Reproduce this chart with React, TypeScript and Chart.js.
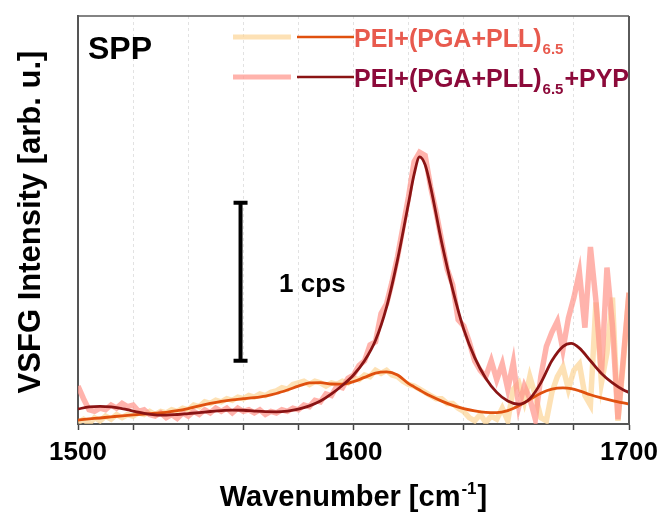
import React, { useEffect, useRef } from "react";
import { Chart, registerables } from "chart.js";

Chart.register(...registerables);

// ---------- data ----------
const xMin = 1500;
const xMax = 1700;
const xTickLabels = [1500, 1600, 1700];

// raw spectra, 1500..1700 cm-1 every 2 cm-1
const rawX = Array.from({ length: 101 }, (_, i) => 1500 + 2 * i);

const rawRef = [
  0.01, 0.03, 0.0, 0.04, 0.02, 0.05, 0.03, 0.06, 0.04, 0.06,
  0.05, 0.07, 0.06, 0.08, 0.06, 0.08, 0.07, 0.09, 0.08, 0.1,
  0.09, 0.12, 0.11, 0.14, 0.13, 0.15, 0.14, 0.16, 0.15, 0.17,
  0.16, 0.18, 0.17, 0.19, 0.18, 0.2, 0.21, 0.23, 0.22, 0.25,
  0.26, 0.27, 0.25, 0.27, 0.26, 0.24, 0.26, 0.25, 0.27, 0.26,
  0.29, 0.28, 0.31, 0.3, 0.34, 0.32, 0.34, 0.31, 0.3, 0.27,
  0.25, 0.24, 0.22, 0.2, 0.18, 0.16, 0.16, 0.13, 0.13, 0.1,
  0.08, 0.04, 0.02, 0.06, 0.01, 0.05, 0.03, 0.1, 0.02, 0.22,
  0.26, 0.14, 0.3, 0.18, 0.04, 0.02, 0.2, 0.3, 0.36, 0.22,
  0.34, 0.38, 0.18, 0.12, 0.77, 0.26, 0.45, 0.8, 0.02, 0.4,
  0.83,
];

const rawPYP = [
  0.24, 0.16, 0.09, 0.08, 0.1, 0.09, 0.12, 0.1, 0.13, 0.11,
  0.12, 0.08, 0.09, 0.06, 0.05, 0.07, 0.04, 0.06, 0.035, 0.07,
  0.05, 0.08, 0.06, 0.09, 0.07, 0.1, 0.08, 0.1, 0.07, 0.1,
  0.08, 0.09, 0.07, 0.09, 0.06, 0.08, 0.07, 0.09, 0.08, 0.1,
  0.09, 0.12, 0.11, 0.15, 0.14, 0.19, 0.18, 0.24, 0.23, 0.29,
  0.31, 0.37, 0.4, 0.5, 0.52, 0.7, 0.76, 0.9, 1.06, 1.25,
  1.44, 1.66, 1.72, 1.7, 1.5, 1.34, 1.16, 0.98, 0.88, 0.66,
  0.62, 0.52, 0.4, 0.34, 0.3, 0.4, 0.28, 0.38, 0.22, 0.39,
  0.11, 0.24, 0.16, 0.03, 0.3, 0.49, 0.58, 0.65, 0.47, 0.67,
  0.8, 0.96, 0.61, 1.12, 0.78, 0.32, 0.99, 0.62, 0.03, 0.43,
  0.83,
];

// fitted curves
const fitX = [
  1500, 1504, 1508, 1512, 1516, 1520, 1524, 1528, 1532, 1536, 1540, 1544,
  1548, 1552, 1556, 1560, 1564, 1568, 1572, 1576, 1580, 1584, 1588, 1592,
  1596, 1600, 1604, 1608, 1612, 1616, 1620, 1622, 1624, 1626, 1628, 1632,
  1636, 1640, 1644, 1648, 1652, 1656, 1660, 1664, 1668, 1672, 1676, 1679,
  1682, 1686, 1690, 1694, 1698, 1700,
];

const fitPYP = [
  0.095, 0.108, 0.112, 0.108, 0.098, 0.082, 0.068, 0.058, 0.056, 0.06, 0.066, 0.072,
  0.079, 0.085, 0.088, 0.087, 0.082, 0.078, 0.077, 0.082, 0.094, 0.115, 0.145, 0.19,
  0.245, 0.31, 0.4, 0.53, 0.74, 1.04, 1.4, 1.58, 1.69, 1.64, 1.5, 1.15,
  0.85, 0.6, 0.42, 0.29, 0.2, 0.145, 0.125, 0.16, 0.26, 0.4, 0.49, 0.51,
  0.48, 0.4, 0.32, 0.26, 0.215, 0.2,
];

const fitRef = [
  0.025, 0.032, 0.038, 0.045, 0.052, 0.058, 0.063, 0.068, 0.074, 0.084, 0.098, 0.115,
  0.13, 0.143, 0.153, 0.16, 0.167, 0.177, 0.193, 0.215, 0.24, 0.26, 0.262, 0.253,
  0.252, 0.268, 0.295, 0.322, 0.33, 0.31, 0.255, 0.235, 0.215, 0.195, 0.177, 0.145,
  0.118, 0.097, 0.083, 0.074, 0.072, 0.085, 0.115, 0.155, 0.195, 0.22, 0.228, 0.224,
  0.21, 0.185, 0.165, 0.148, 0.133, 0.126,
];

// scale bar (1 cps)
const scaleBarX = 1559;
const scaleBarRange = [0.4, 1.4];
const scaleBarLabel = "1 cps";
const scaleBarLabelPos = [1573, 0.88];

const yMax = 2.582;

const labelRef = "PEI+(PGA+PLL)";
const labelSub = "6.5";
const labelPYPSuffix = "+PYP";
const panelLabel = "SPP";

// ---------- styles ----------
const FONT = "'Liberation Sans', Arial, Helvetica, sans-serif";
const RAW_REF_COLOR = "rgba(252, 212, 150, 0.7)";
const RAW_PYP_COLOR = "rgba(255, 150, 140, 0.72)";
const FIT_REF_COLOR = "#E0500E";
const FIT_PYP_COLOR = "#8A1414";
const TXT_REF_COLOR = "#E85A4E";
const TXT_PYP_COLOR = "#8C0A3A";

const toPts = (xs: number[], ys: number[]) => xs.map((x, i) => ({ x, y: ys[i] }));

const overlayPlugin = {
  id: "overlay",
  afterDatasetsDraw(chart: any) {
    const { ctx, chartArea, scales } = chart;
    const xs = scales.x;
    const ys = scales.y;
    ctx.save();
    // frame top/right
    ctx.strokeStyle = "#5a5a5a";
    ctx.lineWidth = 1.5;
    ctx.beginPath();
    ctx.moveTo(chartArea.left, chartArea.top);
    ctx.lineTo(chartArea.right, chartArea.top);
    ctx.stroke();
    ctx.lineWidth = 2;
    ctx.beginPath();
    ctx.moveTo(chartArea.right, chartArea.top);
    ctx.lineTo(chartArea.right, chartArea.bottom);
    ctx.stroke();

    // scale bar
    const bx = xs.getPixelForValue(scaleBarX);
    const by1 = ys.getPixelForValue(scaleBarRange[0]);
    const by2 = ys.getPixelForValue(scaleBarRange[1]);
    ctx.strokeStyle = "#000";
    ctx.lineWidth = 4;
    ctx.lineCap = "butt";
    ctx.beginPath();
    ctx.moveTo(bx, by1);
    ctx.lineTo(bx, by2);
    ctx.moveTo(bx - 7, by1);
    ctx.lineTo(bx + 7, by1);
    ctx.moveTo(bx - 7, by2);
    ctx.lineTo(bx + 7, by2);
    ctx.stroke();

    ctx.fillStyle = "#000";
    ctx.font = `bold 26px ${FONT}`;
    ctx.textAlign = "left";
    ctx.textBaseline = "middle";
    ctx.fillText(
      scaleBarLabel,
      xs.getPixelForValue(scaleBarLabelPos[0]),
      ys.getPixelForValue(scaleBarLabelPos[1])
    );
    ctx.restore();
  },
  afterDraw(chart: any) {
    const { ctx, chartArea } = chart;
    ctx.save();
    // panel label
    ctx.fillStyle = "#000";
    ctx.font = `bold 32px ${FONT}`;
    ctx.textAlign = "left";
    ctx.textBaseline = "alphabetic";
    ctx.fillText(panelLabel, 88, 59);

    // legend
    const rows = [
      { y: 37, raw: RAW_REF_COLOR, fit: FIT_REF_COLOR, txt: TXT_REF_COLOR, suffix: "" },
      { y: 77, raw: RAW_PYP_COLOR, fit: FIT_PYP_COLOR, txt: TXT_PYP_COLOR, suffix: labelPYPSuffix },
    ];
    rows.forEach((r) => {
      ctx.lineCap = "butt";
      ctx.strokeStyle = r.raw;
      ctx.lineWidth = 5;
      ctx.beginPath();
      ctx.moveTo(233, r.y);
      ctx.lineTo(291, r.y);
      ctx.stroke();
      ctx.strokeStyle = r.fit;
      ctx.lineWidth = 2.5;
      ctx.beginPath();
      ctx.moveTo(297, r.y);
      ctx.lineTo(354, r.y);
      ctx.stroke();

      const base = r.y + 10;
      let tx = 354;
      ctx.fillStyle = r.txt;
      ctx.font = `bold 25px ${FONT}`;
      ctx.fillText(labelRef, tx, base);
      tx += ctx.measureText(labelRef).width + 1;
      ctx.font = `bold 15px ${FONT}`;
      ctx.fillText(labelSub, tx, base + 7);
      tx += ctx.measureText(labelSub).width + 1;
      if (r.suffix) {
        ctx.font = `bold 25px ${FONT}`;
        ctx.fillText(r.suffix, tx, base);
      }
    });

    // y title
    ctx.fillStyle = "#000";
    ctx.font = `bold 31px ${FONT}`;
    ctx.textAlign = "center";
    ctx.textBaseline = "middle";
    ctx.save();
    ctx.translate(31, (chartArea.top + chartArea.bottom) / 2 + 2);
    ctx.rotate(-Math.PI / 2);
    ctx.fillText("VSFG Intensity [arb. u.]", 0, 0);
    ctx.restore();

    // x title with superscript
    const p1 = "Wavenumber [cm";
    const sup = "-1";
    const p2 = "]";
    ctx.textAlign = "left";
    ctx.textBaseline = "alphabetic";
    ctx.font = `bold 29px ${FONT}`;
    const w1 = ctx.measureText(p1).width;
    const w3 = ctx.measureText(p2).width;
    ctx.font = `bold 17px ${FONT}`;
    const w2 = ctx.measureText(sup).width;
    const total = w1 + w2 + w3 + 2;
    let sx = (chartArea.left + chartArea.right) / 2 - total / 2;
    const sy = 506;
    ctx.font = `bold 29px ${FONT}`;
    ctx.fillText(p1, sx, sy);
    sx += w1 + 1;
    ctx.font = `bold 17px ${FONT}`;
    ctx.fillText(sup, sx, sy - 12);
    sx += w2 + 1;
    ctx.font = `bold 29px ${FONT}`;
    ctx.fillText(p2, sx, sy);
    ctx.restore();
  },
};

export default function App() {
  const canvasRef = useRef<HTMLCanvasElement | null>(null);

  useEffect(() => {
    const canvas = canvasRef.current;
    if (!canvas) return;
    const chart = new Chart(canvas, {
      type: "line",
      data: {
        datasets: [
          {
            label: "fit PYP",
            data: toPts(fitX, fitPYP),
            borderColor: FIT_PYP_COLOR,
            borderWidth: 2.8,
            pointRadius: 0,
            cubicInterpolationMode: "monotone",
            fill: false,
            order: 0,
          },
          {
            label: "fit ref",
            data: toPts(fitX, fitRef),
            borderColor: FIT_REF_COLOR,
            borderWidth: 2.8,
            pointRadius: 0,
            cubicInterpolationMode: "monotone",
            fill: false,
            order: 1,
          },
          {
            label: "raw PYP",
            data: toPts(rawX, rawPYP),
            borderColor: RAW_PYP_COLOR,
            borderWidth: 5.5,
            pointRadius: 0,
            tension: 0,
            fill: false,
            order: 2,
          },
          {
            label: "raw ref",
            data: toPts(rawX, rawRef),
            borderColor: RAW_REF_COLOR,
            borderWidth: 5.5,
            pointRadius: 0,
            tension: 0,
            fill: false,
            order: 3,
          },
        ],
      },
      options: {
        animation: false,
        responsive: false,
        devicePixelRatio: 1,
        layout: { padding: { top: 16, right: 31, left: 0, bottom: 0 } },
        plugins: {
          legend: { display: false },
          tooltip: { enabled: false },
        },
        scales: {
          x: {
            type: "linear",
            min: xMin,
            max: xMax,
            ticks: {
              stepSize: 20,
              autoSkip: false,
              maxRotation: 0,
              color: "#000",
              padding: 7,
              font: { family: FONT, size: 26, weight: "bold" },
              callback: (v: any) => (xTickLabels.includes(Number(v)) ? String(v) : ""),
            },
            grid: {
              color: "#e2e2e2",
              lineWidth: 1,
              tickColor: "#444",
              tickLength: 6,
              tickWidth: 1.5,
            },
            border: { color: "#555", width: 2, dash: [3, 3] },
            afterFit: (s: any) => {
              s.height = 92;
              s.paddingLeft = 0;
              s.paddingRight = 0;
            },
          },
          y: {
            type: "linear",
            min: 0,
            max: yMax,
            ticks: { display: false },
            grid: { display: false },
            border: { color: "#555", width: 2 },
            afterFit: (s: any) => {
              s.width = 78;
              s.paddingTop = 0;
              s.paddingBottom = 0;
            },
          },
        },
      },
      plugins: [overlayPlugin],
    } as any);
    return () => chart.destroy();
  }, []);

  return (
    <div style={{ position: "absolute", left: 0, top: 0, width: 660, height: 516, background: "#fff" }}>
      <canvas ref={canvasRef} width={660} height={516} style={{ display: "block" }} />
    </div>
  );
}
